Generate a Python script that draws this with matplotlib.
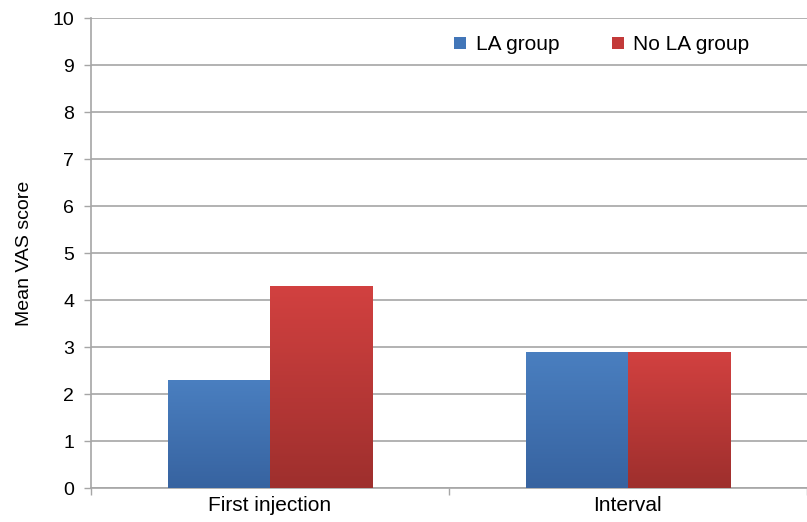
import numpy as np
import matplotlib.pyplot as plt
from matplotlib.colors import LinearSegmentedColormap
from matplotlib.lines import Line2D

plt.rcParams['font.family'] = ['Liberation Sans', 'DejaVu Sans']

categories = ['First injection', 'Interval']
series_names = ['LA group', 'No LA group']
la_group = [2.3, 2.9]
no_la_group = [4.3, 2.9]

# top/bottom colours of each bar's vertical gradient
blue_top, blue_bot = '#4a7fc0', '#3763a0'
red_top, red_bot = '#d24140', '#9e2f2d'

fig = plt.figure(figsize=(8.07, 5.22), dpi=100)
ax = fig.add_axes([0.1128, 0.0651, 0.887, 0.9004])

x = np.arange(len(categories))
w = 0.286
grey = '#a6a6a6'


def gradient_bars(xs, vals, top, bot):
    bars = ax.bar(xs, vals, w, color=bot, zorder=2, linewidth=0)
    cmap = LinearSegmentedColormap.from_list('g', [bot, top])
    grad = np.linspace(0, 1, 256).reshape(-1, 1)
    for b in bars:
        x0, y0 = b.get_x(), b.get_y()
        im = ax.imshow(grad, cmap=cmap, aspect='auto', origin='lower',
                       extent=[x0, x0 + b.get_width(), y0, y0 + b.get_height()],
                       zorder=3, interpolation='bicubic')
        im.set_clip_path(b)
    return bars


gradient_bars(x - w / 2, la_group, blue_top, blue_bot)
gradient_bars(x + w / 2, no_la_group, red_top, red_bot)

ax.set_xlim(-0.5, 1.5)
ax.set_ylim(0, 10)
ax.set_yticks(range(0, 11))
ax.set_xticks(x)
ax.set_xticklabels(categories, fontsize=15)
ax.set_xticks([-0.5, 0.5, 1.5], minor=True)
ax.tick_params(axis='x', which='major', length=0, pad=6)
ax.tick_params(axis='x', which='minor', length=5, color=grey, width=1)
ax.tick_params(axis='y', length=5, color=grey, width=1, labelsize=14, pad=7)
ax.set_ylabel('Mean VAS score', fontsize=14, labelpad=14)

ax.yaxis.grid(True, color=grey, linewidth=1.2)
ax.set_axisbelow(True)
for s in ['top', 'right']:
    ax.spines[s].set_visible(False)
for s in ['left', 'bottom']:
    ax.spines[s].set_color(grey)
    ax.spines[s].set_linewidth(1.2)

handles = [Line2D([], [], marker='s', linestyle='', markersize=9,
                  markerfacecolor=c, markeredgewidth=0)
           for c in ['#4276b8', '#c33a39']]
ax.legend(handles, series_names, loc='center', bbox_to_anchor=(0.712, 0.943),
          ncol=2, frameon=False, fontsize=15, handletextpad=0.35,
          columnspacing=2.4, handlelength=0.8, borderpad=0)

fig.savefig('out.png', dpi=100)
